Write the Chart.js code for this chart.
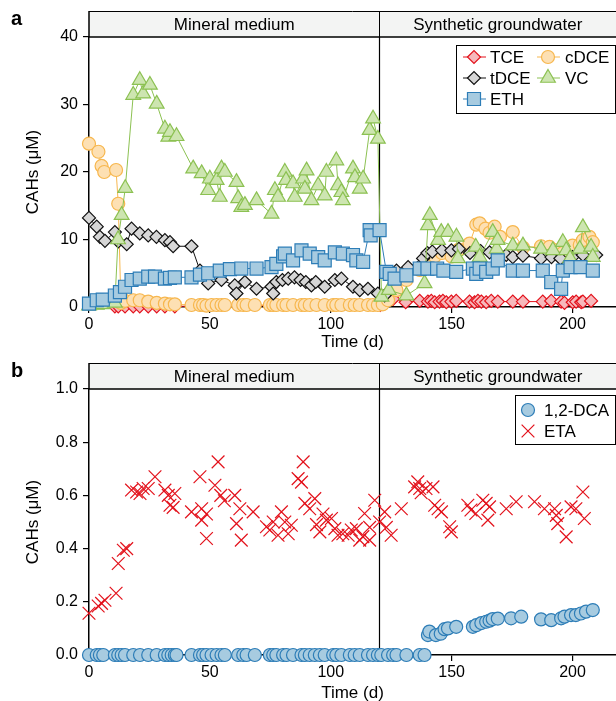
<!DOCTYPE html>
<html>
<head>
<meta charset="utf-8">
<script src="https://cdn.jsdelivr.net/npm/chart.js@4.4.1/dist/chart.umd.min.js"></script>
<style>
  body { margin: 0; background: #fff; }
  canvas { display: block; }
</style>
</head>
<body>
<canvas id="chartA" width="616" height="350"></canvas>
<canvas id="chartB" width="616" height="351"></canvas>
<script>
'use strict';

// Panel a - chlorinated ethenes (uM) by time (d)
let tceDays = [10.7, 12.1, 14.9, 18.3, 21, 24.5, 28, 31.4, 35.5,
  120.5, 123, 125.8, 131, 136.8, 140.2, 141.6, 143, 145, 146.4, 147.8, 149.9, 151.9, 157.4, 159.5, 160.9,
  162.3, 164.3, 166.4, 169.1, 175.3, 179.5, 187.7, 191.2, 195.3, 196.7, 200.1, 201.5, 203.6, 204.3, 207.7];
let tceVals = [0.1, 0.1, 0.1, 0.1, 0.1, 0.1, 0.1, 0.1, 0.1,
  0.3, 1.3, 1.2, 0.7, 0.9, 0.8, 0.9, 0.7, 0.8, 0.9, 0.7, 0.8, 0.9, 0.8, 0.7, 0.9,
  0.8, 0.7, 0.9, 0.8, 0.8, 0.8, 0.8, 0.9, 0.8, 0.6, 0.7, 0.8, 0.7, 0.8, 0.9];

let cdceDays = [0, 3.9, 5.2, 6.3, 11.2, 12.1, 13.2, 14.9, 18.3, 21, 24.5, 28, 31.4, 33.5, 35.5,
  42.4, 45.9, 47.2, 48.6, 50.7, 52.8, 54.8, 56.2, 61.7, 63.8, 65.2, 68.6, 74.8, 76.2, 77.5, 80.3,
  81.7, 84.4, 87.9, 89.3, 91.3, 94.1, 97.5, 101, 102.3, 104.4, 107.9, 109.9, 112, 115.4, 117.5, 119.5,
  121.5, 123.7, 127.2, 131.3, 136.8, 140, 143, 146, 150, 153, 157.4, 160.2, 161.6, 164, 165.7, 167.8,
  170, 175.3, 179.5, 187, 190.5, 193, 196, 200, 203, 204.3, 207, 208.4];
let cdceVals = [24.2, 23, 20.9, 20, 20.3, 15.3, 0.6, 0.9, 1, 1, 0.8, 0.6, 0.5, 0.4, 0.4,
  0.3, 0.3, 0.3, 0.2, 0.3, 0.3, 0.3, 0.3, 0.3, 0.3, 0.3, 0.3, 0.3, 0.3, 0.3, 0.3,
  0.3, 0.3, 0.3, 0.3, 0.3, 0.3, 0.3, 0.3, 0.3, 0.3, 0.3, 0.3, 0.3, 0.3, 0.3, 0.3,
  0.4, 1, 2.5, 4, 5.5, 7, 7.5, 8, 7.5, 8.5, 9.4, 12.2, 12.4, 11.6, 11, 11.9,
  10.4, 11.1, 8.8, 9, 8.9, 8.4, 8, 9.1, 9.2, 9.9, 10.4, 9.6];

let tdceDays = [0, 3.2, 4.5, 6.6, 10.7, 12.1, 15.6, 17.6, 21, 24.5, 27.9, 31.4, 33.5, 34.8, 42.4, 45.9,
  49.3, 54.8, 60.3, 61, 64.5, 69.3, 75.5, 76.2, 77.5, 80, 82.4, 85, 87.5, 89.7, 92, 93.8, 97.5, 101.7,
  104.4, 109.2, 112, 115.4, 119.5,
  122.3, 127.2, 132, 138.2, 140, 142, 146, 149.9, 153, 157.6, 162, 165.7, 169, 172.6, 175.3, 179.5,
  187, 191.3, 195, 200, 204.3, 209.8];
let tdceVals = [13.2, 11.9, 10.4, 9.8, 11.1, 9.7, 9.3, 11.6, 10.9, 10.6, 10.4, 9.9, 9.6, 9, 9, 5.4,
  3.5, 4, 3.2, 2, 3.7, 2.7, 3, 2, 3.7, 4, 4.2, 4.4, 4, 3.7, 3.2, 3.7, 3, 4,
  4.2, 3, 2.5, 2.7, 2,
  1.7, 5.4, 5.9, 7.2, 8, 8.2, 8.4, 8.4, 8.6, 8, 8.3, 8.1, 7.9, 7.7, 7.4, 7.6,
  7.2, 7.4, 7.2, 7.4, 7.7, 7.7];

let vcDays = [0, 3.2, 5.7, 10.7, 12, 13.5, 15, 18.3, 21, 22.4, 25.2, 28, 31.4, 32.8, 33.5, 36.2,
  43.1, 46.6, 49.3, 50, 52.8, 54.1, 54.8, 56.2, 61, 61.7, 63, 64.5, 69.3, 75.5, 76.9, 78.2, 81, 81.5,
  84.4, 85.1, 88.6, 89.3, 90, 92, 94.8, 97.5, 98.2, 102.3, 103, 104.4, 105, 109.2, 110, 112, 113.4,
  116.1, 117.5, 119.5,
  121, 124, 131.3, 138.8, 140.2, 141, 144.4, 145.7, 148.5, 152, 152.6, 160, 161.6, 167, 168.6, 169,
  175.3, 179.5, 187, 191.9, 196, 197.4, 199, 203, 204.3, 207.7, 208.4];
let vcVals = [0.2, 0.3, 0.4, 0.6, 10, 13.6, 17.6, 31.4, 33.6, 31.6, 32.9, 30.1, 26.4, 25.2, 25.9, 25.3,
  20.5, 19.8, 17.3, 19, 18.8, 16.3, 20.5, 20, 18.5, 16.1, 14.8, 15.1, 15.8, 13.8, 17.3, 16.3, 20, 18.8,
  18.3, 16.3, 19, 17.5, 20.2, 15.8, 18, 16.5, 20, 21.7, 18, 17, 15.8, 20.5, 19.2, 17.5, 19,
  26.2, 27.9, 24.9,
  1.5, 2.5, 1.7, 3.5, 12.1, 13.6, 9.9, 11.1, 11.1, 10.4, 7.2, 8.9, 7.4, 11.1, 8.6, 9.9,
  9.1, 9.1, 8.6, 8.4, 9.6, 8.4, 7.2, 8.6, 11.8, 8.9, 7.4];

let ethDays = [0, 3.2, 5.7, 10.7, 12.8, 14.9, 17.6, 21, 24.5, 27.3, 31.4, 33.5, 35.5, 42.4, 45.9, 49.3,
  54.1, 58.3, 63, 69.3, 75.5, 77.5, 80.3, 81, 84.4, 87.9, 91.3, 94.8, 97.5, 101.7, 105, 109.2, 110.6,
  113.4, 116.1, 116.5, 120.2,
  123, 124.4, 126.4, 131.3, 136.8, 140, 144, 146.6, 151.9, 158.8, 160.2, 161.6, 164.3, 167, 169.1,
  175.3, 179.5, 187.7, 191.2, 195.3, 196, 199.2, 203.3, 208.4];
let ethVals = [0.5, 1, 1.1, 1.7, 2.2, 3, 4, 4.2, 4.5, 4.5, 4.2, 4.3, 4.4, 4.4, 4.8, 5,
  5.4, 5.6, 5.7, 5.7, 5.9, 6.4, 7.5, 7.9, 6.9, 8.4, 7.9, 7.4, 6.9, 8.1, 7.9, 7.7, 6.9,
  6.7, 11.4, 10.6, 11.4,
  5.2, 4.9, 4.2, 4.7, 5.7, 5.7, 5.7, 5.4, 5.2, 5.7, 4.9, 5.7, 5.2, 5.7, 6.9,
  5.4, 5.4, 5.4, 3.7, 2.7, 5.4, 5.9, 5.9, 5.4];

// Panel b - 1,2-DCA and ETA (uM)
let dcaDays = [0, 3.2, 4.5, 5.9, 10.7, 12.1, 13.5, 14.9, 18.3, 21.1, 24.5, 28, 31.4, 32.8, 34.2, 35.5,
  36.2, 42.4, 45.9, 47.2, 48.6, 50.7, 52.8, 54.8, 56.2, 61.7, 63.8, 65.2, 68.6, 74.8, 76.2, 77.5, 80.3,
  81.7, 84.4, 87.9, 89.3, 91.3, 93.4, 95.5, 97.5, 101, 102.3, 104.4, 107.9, 109.9, 112, 115.4, 117.5,
  119.5, 120.9, 123.7, 125.8, 127.2, 131.3, 136.8, 138.8,
  140.2, 140.8, 143.5, 145.5, 147.1, 148.5, 151.9, 158.8, 160.2, 162.3, 164.3, 165.7, 167, 169.1,
  174.6, 178.8, 187, 191.2, 195.3, 196.7, 199.4, 201.4, 203.5, 205.6, 208.4];
let dcaVals = [0, 0, 0, 0, 0, 0, 0, 0, 0, 0, 0, 0, 0, 0, 0, 0,
  0, 0, 0, 0, 0, 0, 0, 0, 0, 0, 0, 0, 0, 0, 0, 0, 0,
  0, 0, 0, 0, 0, 0, 0, 0, 0, 0, 0, 0, 0, 0, 0, 0,
  0, 0, 0, 0, 0, 0, 0, 0,
  0.075, 0.088, 0.075, 0.08, 0.097, 0.1, 0.106, 0.106, 0.112, 0.12, 0.125, 0.129, 0.135, 0.137,
  0.138, 0.144, 0.134, 0.131, 0.138, 0.144, 0.15, 0.15, 0.156, 0.163, 0.169];

let etaDays = [0, 3.8, 5.2, 6.6, 11.2, 12.1, 14.2, 15.6, 17.6, 19.7, 21.1, 22.4, 24.5, 27.3, 31.4, 32.8,
  33.5, 34.8, 35.5, 42.4, 45.9, 46.6, 46.6, 48.6, 48.6, 52.1, 53.4, 54.5, 56, 60.3, 61, 62.4, 63, 67.9,
  73.4, 74.8, 76.2, 78.2, 79.6, 81, 82.4, 83.7, 86.5, 87.9, 88.6, 89.3, 91.3, 93.4, 94.1, 95.5, 96.8,
  98.2, 100.3, 101.7, 103, 105, 107.2, 108.5, 110.6, 112, 113.3, 114, 116.1, 116.1, 118.2,
  120.2, 122.3, 123, 125, 129.2, 134.7, 136, 136.8, 137.4, 139.4, 142.3, 143, 144.4, 145.8, 149.2,
  149.9, 156.7, 158, 160, 162.9, 164.3, 165.7, 165, 172.6, 176.7, 184.3, 188.4, 192.6, 193.3, 193.9,
  197.4, 199.4, 201.4, 204.3, 204.9];
let etaVals = [0.157, 0.184, 0.194, 0.206, 0.232, 0.344, 0.394, 0.4, 0.62, 0.613, 0.607, 0.626, 0.626, 0.67, 0.62, 0.6,
  0.563, 0.555, 0.607, 0.538, 0.67, 0.55, 0.507, 0.53, 0.438, 0.638, 0.726, 0.6, 0.58, 0.6, 0.494, 0.55, 0.432, 0.538,
  0.482, 0.47, 0.5, 0.45, 0.538, 0.5, 0.456, 0.488, 0.663, 0.65, 0.726, 0.57, 0.55, 0.588, 0.49, 0.463, 0.53,
  0.507, 0.513, 0.475, 0.45, 0.456, 0.45, 0.47, 0.475, 0.432, 0.445, 0.532, 0.432, 0.48, 0.582,
  0.5, 0.538, 0.48, 0.45, 0.55, 0.632, 0.651, 0.626, 0.61, 0.626, 0.632, 0.563, 0.55, 0.538, 0.482,
  0.463, 0.563, 0.545, 0.532, 0.582, 0.57, 0.557, 0.507, 0.55, 0.576, 0.576, 0.55, 0.55, 0.525, 0.494,
  0.444, 0.557, 0.55, 0.613, 0.513];

// Axis ticks and strip labels
let xTicks = [0, 50, 100, 150, 200];
let yTicksA = [0, 10, 20, 30, 40];
let yTicksB = [0, 0.2, 0.4, 0.6, 0.8, 1.0];
let stripLabels = ['Mineral medium', 'Synthetic groundwater'];
let mediumSwitchDay = 120;

Chart.defaults.font.family = '"Liberation Sans", Arial, sans-serif';
Chart.defaults.color = '#000';

// zip two arrays into {x, y} points
function toPoints(days, vals) {
  let pts = [];
  for (let i = 0; i < days.length; i++) {
    pts.push({ x: days[i], y: vals[i] });
  }
  return pts;
}

// draws a small marker like the one Chart.js uses, for the legend
function drawMarker(ctx, style, x, y, r, fill, stroke) {
  ctx.beginPath();
  if (style === 'circle') {
    ctx.arc(x, y, r, 0, Math.PI * 2);
  } else if (style === 'rect') {
    let s = r * Math.SQRT1_2;
    ctx.rect(x - s, y - s, 2 * s, 2 * s);
  } else if (style === 'rectRot') {
    ctx.moveTo(x - r, y); ctx.lineTo(x, y - r); ctx.lineTo(x + r, y); ctx.lineTo(x, y + r);
    ctx.closePath();
  } else if (style === 'triangle') {
    for (let k = 0; k < 3; k++) {
      let a = k * 2 * Math.PI / 3;
      let px = x + Math.sin(a) * r;
      let py = y - Math.cos(a) * r;
      if (k === 0) ctx.moveTo(px, py); else ctx.lineTo(px, py);
    }
    ctx.closePath();
  } else if (style === 'crossRot') {
    let s = r * Math.SQRT1_2;
    ctx.moveTo(x - s, y - s); ctx.lineTo(x + s, y + s);
    ctx.moveTo(x - s, y + s); ctx.lineTo(x + s, y - s);
  }
  if (style !== 'crossRot') {
    ctx.fillStyle = fill;
    ctx.fill();
  }
  ctx.strokeStyle = stroke;
  ctx.stroke();
}

// strip header, medium switch line, panel letter and boxed legend
let panelDecor = {
  id: 'panelDecor',
  beforeDatasetsDraw(chart, args, opts) {
    let ctx = chart.ctx;
    let area = chart.chartArea;
    let xs = Math.round(chart.scales.x.getPixelForValue(opts.split)) + 0.5;
    ctx.save();
    ctx.strokeStyle = '#000';
    ctx.lineWidth = 1.2;
    ctx.beginPath();
    ctx.moveTo(xs, area.top);
    ctx.lineTo(xs, area.bottom);
    ctx.stroke();
    ctx.restore();
  },
  afterDraw(chart, args, opts) {
    let ctx = chart.ctx;
    let area = chart.chartArea;
    let xs = Math.round(chart.scales.x.getPixelForValue(opts.split)) + 0.5;
    let top = opts.stripTop;
    ctx.save();

    // strip header
    ctx.fillStyle = '#f3f4f3';
    ctx.fillRect(area.left, top, chart.width - area.left, area.top - top);
    ctx.strokeStyle = '#000';
    ctx.lineWidth = 1;
    ctx.beginPath();
    ctx.moveTo(area.left, top + 0.5);
    ctx.lineTo(chart.width, top + 0.5);
    ctx.moveTo(xs, top);
    ctx.lineTo(xs, area.top);
    ctx.stroke();
    ctx.lineWidth = 1.5;
    ctx.beginPath();
    ctx.moveTo(area.left, area.top);
    ctx.lineTo(chart.width, area.top);
    ctx.moveTo(area.left, top);
    ctx.lineTo(area.left, area.top);
    ctx.stroke();

    ctx.fillStyle = '#000';
    ctx.font = '17px "Liberation Sans", Arial, sans-serif';
    ctx.textAlign = 'center';
    ctx.textBaseline = 'middle';
    let midY = (top + area.top) / 2 + 1;
    ctx.fillText(opts.labels[0], (area.left + xs) / 2, midY);
    ctx.fillText(opts.labels[1], (xs + chart.width) / 2, midY);

    // panel letter
    ctx.font = 'bold 20px "Liberation Sans", Arial, sans-serif';
    ctx.textAlign = 'left';
    ctx.textBaseline = 'alphabetic';
    ctx.fillText(opts.letter, 11, opts.letterY);

    // legend box
    let lg = opts.legend;
    ctx.fillStyle = '#fff';
    ctx.fillRect(lg.x, lg.y, lg.w, lg.h);
    ctx.strokeStyle = '#000';
    ctx.lineWidth = 1;
    ctx.strokeRect(lg.x + 0.5, lg.y + 0.5, lg.w, lg.h);
    ctx.font = '17px "Liberation Sans", Arial, sans-serif';
    ctx.textBaseline = 'middle';
    for (let i = 0; i < lg.items.length; i++) {
      let it = lg.items[i];
      let ds = chart.data.datasets[it.index];
      ctx.lineWidth = 1;
      if (ds.showLine) {
        ctx.strokeStyle = ds.borderColor;
        ctx.beginPath();
        ctx.moveTo(it.x - 11, it.y);
        ctx.lineTo(it.x + 12, it.y);
        ctx.stroke();
      }
      ctx.lineWidth = ds.pointBorderWidth;
      drawMarker(ctx, ds.pointStyle, it.x, it.y, ds.pointRadius, ds.backgroundColor, ds.borderColor);
      ctx.fillStyle = '#000';
      ctx.fillText(ds.label, it.x + it.gap, it.y + 1);
    }
    ctx.restore();
  }
};

// shared axis options
function makeScales(yMin, yMax, yTickVals, yFormat, xHeight, titlePad) {
  return {
    x: {
      type: 'linear',
      min: 0,
      max: 218,
      afterBuildTicks: function (s) {
        s.ticks = xTicks.map(function (v) { return { value: v }; });
      },
      afterFit: function (s) { s.height = xHeight; },
      ticks: { font: { size: 16 }, padding: 2, maxRotation: 0 },
      grid: { drawOnChartArea: false, drawTicks: true, tickLength: 6, color: '#000', lineWidth: 1.2 },
      border: { display: true, color: '#000', width: 1.5 },
      title: { display: true, text: 'Time (d)', font: { size: 17, lineHeight: 1 }, padding: { top: 0, bottom: titlePad } }
    },
    y: {
      type: 'linear',
      min: yMin,
      max: yMax,
      afterBuildTicks: function (s) {
        s.ticks = yTickVals.map(function (v) { return { value: v }; });
      },
      afterFit: function (s) { s.width = 89; },
      ticks: { font: { size: 16 }, padding: 5, callback: yFormat },
      grid: { drawOnChartArea: false, drawTicks: true, tickLength: 6, color: '#000', lineWidth: 1.2 },
      border: { display: true, color: '#000', width: 1.5 },
      title: { display: true, text: 'CAHs (μM)', font: { size: 17, lineHeight: 1 }, padding: { top: 25, bottom: 0 } }
    }
  };
}

function lineSeries(label, days, vals, style, radius, edge, fill, order) {
  return {
    label: label,
    data: toPoints(days, vals),
    showLine: true,
    borderColor: edge,
    backgroundColor: fill,
    borderWidth: 1,
    pointStyle: style,
    pointRadius: radius,
    pointBorderWidth: 1.2,
    clip: false,
    order: order
  };
}

// Panel a
new Chart(document.getElementById('chartA'), {
  type: 'scatter',
  data: {
    datasets: [
      lineSeries('TCE', tceDays, tceVals, 'rectRot', 6.5, '#e3111b', '#f6b8bb', 5),
      lineSeries('cDCE', cdceDays, cdceVals, 'circle', 6.5, '#f7b74e', '#fde0b3', 4),
      lineSeries('tDCE', tdceDays, tdceVals, 'rectRot', 6.5, '#111111', '#d6d6d6', 3),
      lineSeries('VC', vcDays, vcVals, 'triangle', 8.5, '#8cc152', '#cde5b0', 2),
      lineSeries('ETH', ethDays, ethVals, 'rect', 9.2, '#2d7db7', '#a7cbe0', 1)
    ]
  },
  options: {
    responsive: false,
    animation: false,
    devicePixelRatio: 1,
    layout: { autoPadding: false, padding: { top: 37, right: 0, left: 0, bottom: 0 } },
    scales: makeScales(0, 40, yTicksA, function (v) { return v; }, 43, -1),
    plugins: {
      legend: { display: false },
      tooltip: { enabled: false },
      panelDecor: {
        split: mediumSwitchDay,
        labels: stripLabels,
        stripTop: 11,
        letter: 'a',
        letterY: 25,
        legend: {
          x: 456, y: 45, w: 159, h: 68,
          items: [
            { index: 0, x: 474, y: 57, gap: 16 },
            { index: 1, x: 548, y: 57, gap: 17 },
            { index: 2, x: 474, y: 78, gap: 16 },
            { index: 3, x: 548, y: 78, gap: 17 },
            { index: 4, x: 474, y: 99, gap: 16 }
          ]
        }
      }
    }
  },
  plugins: [panelDecor]
});

// Panel b
new Chart(document.getElementById('chartB'), {
  type: 'scatter',
  data: {
    datasets: [
      {
        label: '1,2-DCA',
        data: toPoints(dcaDays, dcaVals),
        borderColor: '#2d7db7',
        backgroundColor: '#a7cbe0',
        pointStyle: 'circle',
        pointRadius: 6.5,
        pointBorderWidth: 1.2,
        clip: false,
        order: 1
      },
      {
        label: 'ETA',
        data: toPoints(etaDays, etaVals),
        borderColor: '#e3111b',
        backgroundColor: '#e3111b',
        pointStyle: 'crossRot',
        pointRadius: 9,
        pointBorderWidth: 1.2,
        clip: false,
        order: 2
      }
    ]
  },
  options: {
    responsive: false,
    animation: false,
    devicePixelRatio: 1,
    layout: { autoPadding: false, padding: { top: 39, right: 0, left: 0, bottom: 0 } },
    scales: makeScales(0, 1, yTicksB, function (v) { return v.toFixed(1); }, 46, -1),
    plugins: {
      legend: { display: false },
      tooltip: { enabled: false },
      panelDecor: {
        split: mediumSwitchDay,
        labels: stripLabels,
        stripTop: 13,
        letter: 'b',
        letterY: 27,
        legend: {
          x: 515, y: 45, w: 100, h: 49,
          items: [
            { index: 0, x: 528, y: 60, gap: 16 },
            { index: 1, x: 528, y: 81, gap: 16 }
          ]
        }
      }
    }
  },
  plugins: [panelDecor]
});
</script>
</body>
</html>
